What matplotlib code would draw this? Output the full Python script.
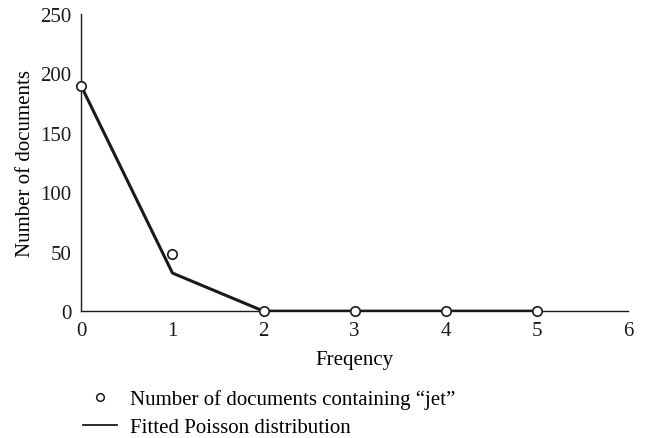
import matplotlib
matplotlib.use("Agg")
import matplotlib.pyplot as plt

plt.rcParams.update({"font.family": ["Liberation Serif", "DejaVu Serif"], "font.size": 15})

# observed document counts per term frequency and the fitted Poisson curve
freq = [0, 1, 2, 3, 4, 5]
observed = [189, 48, 0, 0, 0, 0]
fitted = [189, 32, 0, 0, 0, 0]

fig = plt.figure(figsize=(6.46, 4.39), dpi=100)
ax = fig.add_axes([0.126, 0.289, 0.846, 0.677])

ax.plot(freq, fitted, color='#1a1a1a', lw=2.2, zorder=2)
ax.plot(freq, observed, 'o', ms=6.8, mfc='white', mec='#1a1a1a', mew=1.2, zorder=3, clip_on=False)

ax.set_xlim(0, 6)
ax.set_ylim(0, 250)
ax.set_xticks(range(0, 7))
ax.set_yticks(range(0, 251, 50))
ax.tick_params(length=0, labelsize=15, colors='#1a1a1a')
ax.tick_params(axis='x', pad=7)
ax.tick_params(axis='y', pad=7)
for s in ['top', 'right']:
    ax.spines[s].set_visible(False)
for s in ['left', 'bottom']:
    ax.spines[s].set_color('#1a1a1a')
    ax.spines[s].set_linewidth(1.0)
ax.set_xlabel('Freqency', fontsize=15, labelpad=7)
ax.set_ylabel('Number of documents', fontsize=15, labelpad=4)

# legend below the axes
h1, = ax.plot([], [], 'o', ms=5.5, mfc='white', mec='#1a1a1a', mew=1.1)
h2, = ax.plot([], [], color='#1a1a1a', lw=1.3)
fig.legend([h1, h2], ['Number of documents containing \u201cjet\u201d', 'Fitted Poisson distribution'],
           loc='upper left', bbox_to_anchor=(0.116, 0.130), frameon=False, fontsize=15,
           handlelength=1.63, handletextpad=0.62, labelspacing=0.39, borderaxespad=0)

fig.savefig("out.png", dpi=100)
